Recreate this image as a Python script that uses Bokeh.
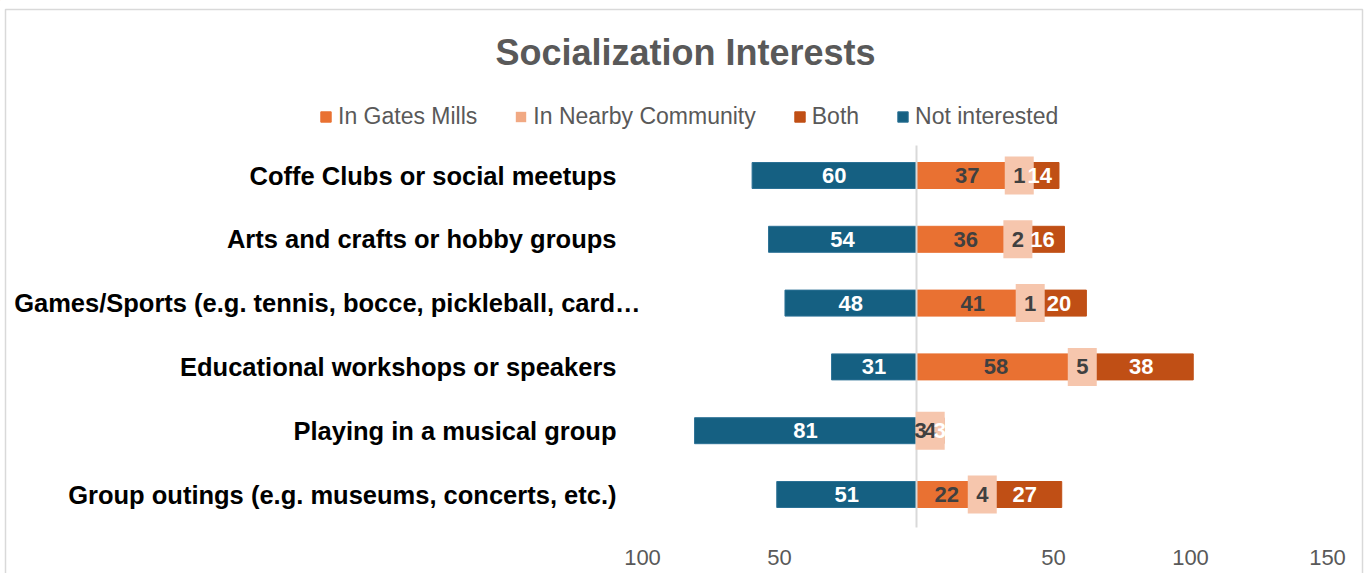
from bokeh.plotting import figure
from bokeh.models import Range1d, ColumnDataSource, Legend, LegendItem
from bokeh.core.properties import value
from bokeh.embed import file_html
from bokeh.resources import INLINE

# ---------------- data ----------------
categories = [
    "Coffe Clubs or social meetups",
    "Arts and crafts or hobby groups",
    "Games/Sports (e.g. tennis, bocce, pickleball, card\u2026",
    "Educational workshops or speakers",
    "Playing in a musical group",
    "Group outings (e.g. museums, concerts, etc.)",
]
not_interested = [60, 54, 48, 31, 81, 51]
in_gates_mills = [37, 36, 41, 58, 3, 22]
in_nearby = [1, 2, 1, 5, 4, 4]
both = [14, 16, 20, 38, 3, 27]

series_names = ["In Gates Mills", "In Nearby Community", "Both", "Not interested"]
tick_values = [-100, -50, 0, 50, 100, 150]
tick_labels = ["100", "50", "", "50", "100", "150"]

# ---------------- styles / layout ----------------
C_BLUE = "#156082"
C_ORANGE = "#E97132"
C_LIGHT = "#F6C6AD"
C_LIGHT_LEG = "#F1A983"
C_BOTH = "#C04F15"
C_TEXT = "#595959"
C_DARK = "#404040"
FONT = "Liberation Sans"

W, H = 1368, 573
X0 = 916.0        # pixel of value 0
PPU = 2.74        # pixels per unit
ROW0 = 175.0      # pixel of first row centre
STEP = 63.8       # pixels between rows


def hx(px):
    return (px - X0) / PPU


def vy(px):
    return (px - ROW0) / STEP


p = figure(width=W, height=H, min_border=0, output_backend="svg", toolbar_location=None,
           x_range=Range1d(hx(0), hx(W)), y_range=Range1d(vy(H), vy(0)),
           x_axis_type=None, y_axis_type=None)
p.grid.visible = False
p.outline_line_color = None
p.background_fill_color = "white"
p.border_fill_color = "white"

n = len(categories)
ys = list(range(n))
gm_end = [g for g in in_gates_mills]
nb_mid = [g + m / 2 for g, m in zip(in_gates_mills, in_nearby)]
nb_end = [g + m for g, m in zip(in_gates_mills, in_nearby)]
both_end = [e + b for e, b in zip(nb_end, both)]

src = ColumnDataSource(dict(
    y=ys, cat=categories,
    ni=[-v for v in not_interested], ni_mid=[-v / 2 for v in not_interested],
    ni_lab=[str(v) for v in not_interested],
    gm=gm_end, gm_mid=[g / 2 for g in in_gates_mills], gm_lab=[str(v) for v in in_gates_mills],
    nb_s=gm_end, nb_e=nb_end, nb_mid=nb_mid, nb_lab=[str(v) for v in in_nearby],
    b_s=nb_end, b_e=both_end, b_mid=[(s + e) / 2 for s, e in zip(nb_end, both_end)],
    b_lab=[str(v) for v in both],
))

# chart border
p.line(x=[hx(5), hx(5), hx(1362), hx(1362)], y=[vy(H + 5), vy(9), vy(9), vy(H + 5)],
       line_color="#D9D9D9", line_width=1.5)

BAR_H = 26 / STEP
r_ni = p.hbar(y="y", left="ni", right=0, height=BAR_H, source=src,
              fill_color=C_BLUE, line_color="#2C7195", line_width=1)
r_gm = p.hbar(y="y", left=0, right="gm", height=BAR_H, source=src,
              fill_color=C_ORANGE, line_color=C_ORANGE)
r_b = p.hbar(y="y", left="b_s", right="b_e", height=BAR_H, source=src,
             fill_color=C_BOTH, line_color=C_BOTH)

# zero line
p.line(x=[0, 0], y=[vy(145), vy(527)], line_color="#D9D9D9", line_width=2)

# nearby community (drawn as thick boxes)
r_nb = p.rect(x="nb_mid", y="y", width=29, height=38, width_units="screen", height_units="screen",
              source=src, fill_color=C_LIGHT, line_color=None)

# legend-only renderer for the nearby swatch (placed far outside the visible range)
r_nb_leg = p.hbar(y=[-50], left=[-2000], right=[-1999], height=BAR_H,
                  fill_color=C_LIGHT_LEG, line_color=None)

LBL = dict(text_font=value(FONT), text_font_style="bold", text_font_size="22px",
           text_align="center", text_baseline="middle", source=src)
p.text(x="ni_mid", y="y", text="ni_lab", text_color="white", **LBL)
p.text(x="gm_mid", y="y", text="gm_lab", text_color=C_DARK, **LBL)
p.text(x="nb_mid", y="y", text="nb_lab", text_color=C_DARK, **LBL)
p.text(x="b_mid", y="y", text="b_lab", text_color="white", **LBL)

# category labels
cat_x = [hx(616)] * n
cat_x[2] = hx(640)
p.text(x=cat_x, y=ys, text=categories, text_font=value(FONT), text_font_style="bold",
       text_font_size="25.5px", text_color="black", text_align="right", text_baseline="middle")

# x tick labels
p.text(x=tick_values, y=[vy(557)] * len(tick_values), text=tick_labels, text_font=value(FONT),
       text_font_size="22px", text_color=C_TEXT, text_align="center", text_baseline="middle")

# title
p.text(x=[hx(685)], y=[vy(52)], text=["Socialization Interests"], text_font=value(FONT),
       text_font_style="bold", text_font_size="36px", text_color=C_TEXT,
       text_align="center", text_baseline="middle")

legend = Legend(items=[
    LegendItem(label=series_names[0], renderers=[r_gm]),
    LegendItem(label=series_names[1], renderers=[r_nb_leg]),
    LegendItem(label=series_names[2], renderers=[r_b]),
    LegendItem(label=series_names[3], renderers=[r_ni]),
], orientation="horizontal", location=(319, 573 - 130), padding=0, margin=0, spacing=37,
    glyph_width=13, glyph_height=13, label_standoff=6,
    label_text_font=FONT, label_text_font_size="23px", label_text_color=C_TEXT,
    border_line_color=None, background_fill_alpha=0)
p.add_layout(legend, "center")

open("out.html", "w").write(file_html(p, INLINE))
